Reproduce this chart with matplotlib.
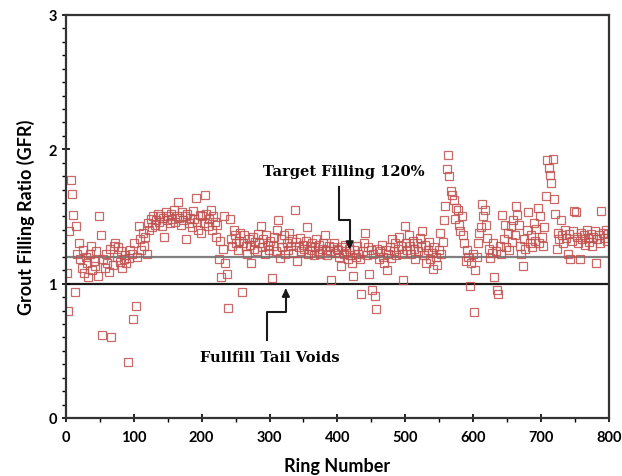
import numpy as np
import matplotlib.pyplot as plt
from matplotlib.ticker import MultipleLocator

# grout filling ratio per ring, rings 1, 3, 5, ... 799 (one row = 50 rings)
gfr = [
    1.08, 0.80, 1.39, 1.77, 1.67, 1.51, 0.94, 1.43, 1.22, 1.30, 1.18, 1.12, 1.25, 1.08, 1.20, 1.15, 1.05, 1.22, 1.28, 1.10, 1.17, 1.13, 1.24, 1.06, 1.50,
    1.36, 0.62, 1.18, 1.12, 1.22, 1.15, 1.09, 1.26, 0.60, 1.14, 1.28, 1.30, 1.20, 1.27, 1.16, 1.24, 1.12, 1.18, 1.21, 1.15, 0.42, 1.19, 1.25, 1.22, 0.74,
    1.30, 0.83, 1.20, 1.43, 1.33, 1.25, 1.38, 1.28, 1.35, 1.22, 1.45, 1.40, 1.48, 1.42, 1.50, 1.44, 1.47, 1.52, 1.46, 1.50, 1.43, 1.49, 1.35, 1.53, 1.47,
    1.50, 1.45, 1.52, 1.48, 1.55, 1.46, 1.50, 1.61, 1.49, 1.44, 1.53, 1.47, 1.50, 1.33, 1.52, 1.45, 1.49, 1.42, 1.54, 1.48, 1.64, 1.46, 1.40, 1.51, 1.38,
    1.50, 1.45, 1.66, 1.52, 1.43, 1.48, 1.55, 1.40, 1.50, 1.46, 1.35, 1.44, 1.18, 1.32, 1.05, 1.26, 1.50, 1.15, 1.07, 0.82, 1.48, 1.33, 1.28, 1.40, 1.36,
    1.30, 1.25, 1.32, 1.38, 0.94, 1.30, 1.36, 1.28, 1.22, 1.33, 1.29, 1.15, 1.35, 1.26, 1.31, 1.24, 1.37, 1.30, 1.43, 1.27, 1.33, 1.22, 1.36, 1.29, 1.25,
    1.32, 1.04, 1.28, 1.35, 1.24, 1.40, 1.47, 1.19, 1.33, 1.27, 1.36, 1.22, 1.30, 1.25, 1.38, 1.28, 1.33, 1.23, 1.55, 1.31, 1.17, 1.27, 1.34, 1.24, 1.29,
    1.26, 1.32, 1.42, 1.22, 1.28, 1.25, 1.30, 1.21, 1.27, 1.33, 1.24, 1.29, 1.22, 1.26, 1.30, 1.36, 1.25, 1.21, 1.28, 1.24, 1.03, 1.27, 1.30, 1.23, 1.26,
    1.25, 1.20, 1.13, 1.27, 1.22, 1.29, 1.24, 1.18, 1.26, 1.21, 1.15, 1.06, 1.25, 1.20, 1.28, 1.22, 1.18, 0.92, 1.24, 1.30, 1.38, 1.21, 1.27, 1.07, 1.25,
    0.95, 1.22, 0.91, 0.81, 1.26, 1.18, 1.24, 1.29, 1.20, 1.15, 1.25, 1.10, 1.22, 1.27, 1.19, 1.33, 1.24, 1.30, 1.21, 1.26, 1.35, 1.28, 1.22, 1.03, 1.43,
    1.30, 1.25, 1.36, 1.28, 1.22, 1.32, 1.26, 1.18, 1.30, 1.24, 1.34, 1.27, 1.39, 1.21, 1.29, 1.15, 1.25, 1.31, 1.18, 1.23, 1.11, 1.27, 1.20, 1.14, 1.25,
    1.38, 1.22, 1.31, 1.47, 1.58, 1.85, 1.96, 1.80, 1.69, 1.66, 1.62, 1.48, 1.56, 1.55, 1.44, 1.39, 1.50, 1.36, 1.30, 1.17, 1.25, 1.20, 0.98, 1.15, 1.22,
    0.79, 1.10, 1.20, 1.30, 1.38, 1.42, 1.59, 1.50, 1.55, 1.44, 1.34, 1.26, 1.19, 1.23, 1.30, 1.05, 1.24, 0.95, 0.92, 1.28, 1.22, 1.51, 1.33, 1.44, 1.27,
    1.38, 1.25, 1.43, 1.31, 1.47, 1.36, 1.58, 1.51, 1.44, 1.28, 1.22, 1.13, 1.33, 1.26, 1.40, 1.53, 1.30, 1.36, 1.27, 1.45, 1.32, 1.41, 1.56, 1.30, 1.50,
    1.35, 1.28, 1.42, 1.65, 1.92, 1.86, 1.81, 1.75, 1.93, 1.63, 1.52, 1.26, 1.38, 1.33, 1.47, 1.36, 1.30, 1.40, 1.34, 1.22, 1.37, 1.18, 1.32, 1.39, 1.54,
    1.53, 1.35, 1.30, 1.18, 1.38, 1.33, 1.36, 1.29, 1.40, 1.34, 1.31, 1.37, 1.28, 1.35, 1.39, 1.15, 1.33, 1.36, 1.30, 1.54, 1.38, 1.34, 1.40, 1.32, 1.37,
]
ring = np.arange(1, 2 * len(gfr), 2)

target_gfr = 1.2
tail_void_gfr = 1.0

RED = '#c0504d'

plt.rcParams['font.family'] = ['Lato', 'DejaVu Sans']

fig = plt.figure(figsize=(6.22, 4.77), dpi=100)
ax = fig.add_axes([0.106, 0.1216, 0.873, 0.845])

ax.axhline(target_gfr, color='#808080', lw=1.6, zorder=1)
ax.axhline(tail_void_gfr, color='#1a1a1a', lw=1.6, zorder=1)

ax.plot(ring, gfr, ls='none', marker='s', ms=5.4, mfc='none',
        mec=RED, mew=0.9, alpha=0.85, zorder=2)

ax.set_xlim(0, 800)
ax.set_ylim(0, 3)
ax.xaxis.set_major_locator(MultipleLocator(100))
ax.xaxis.set_minor_locator(MultipleLocator(50))
ax.yaxis.set_major_locator(MultipleLocator(1))
ax.yaxis.set_minor_locator(MultipleLocator(0.1))
ax.tick_params(which='major', direction='inout', length=6, width=1.2, labelsize=10.5)
ax.tick_params(axis='x', which='major', pad=6)
ax.tick_params(which='minor', direction='out', length=3, width=1.0)
for lab in ax.get_xticklabels() + ax.get_yticklabels():
    lab.set_fontweight('bold')
for s in ax.spines.values():
    s.set_linewidth(1.6)
    s.set_color('#333333')

ax.set_xlabel('Ring Number', fontsize=13, fontweight='bold', labelpad=9)
ax.set_ylabel('Grout Filling Ratio (GFR)', fontsize=13, fontweight='bold', labelpad=10)

# elbow arrows for the two reference lines
serif = dict(family='DejaVu Serif', fontweight='bold', fontsize=10.5)
ax.text(410, 1.84, 'Target Filling 120%', ha='center', va='center', **serif)
ax.plot([403, 403, 418, 418], [1.72, 1.474, 1.474, 1.30], color='#1a1a1a', lw=1.5)
ax.annotate('', xy=(418, 1.232), xytext=(418, 1.31),
            arrowprops=dict(arrowstyle='-|>', color='#1a1a1a', lw=1.5, mutation_scale=11))

ax.text(301, 0.455, 'Fullfill Tail Voids', ha='center', va='center', **serif)
ax.plot([296, 296, 324, 324], [0.577, 0.79, 0.79, 0.93], color='#1a1a1a', lw=1.5)
ax.annotate('', xy=(324, 0.985), xytext=(324, 0.92),
            arrowprops=dict(arrowstyle='-|>', color='#1a1a1a', lw=1.5, mutation_scale=11))

fig.savefig('out.png', dpi=100)
